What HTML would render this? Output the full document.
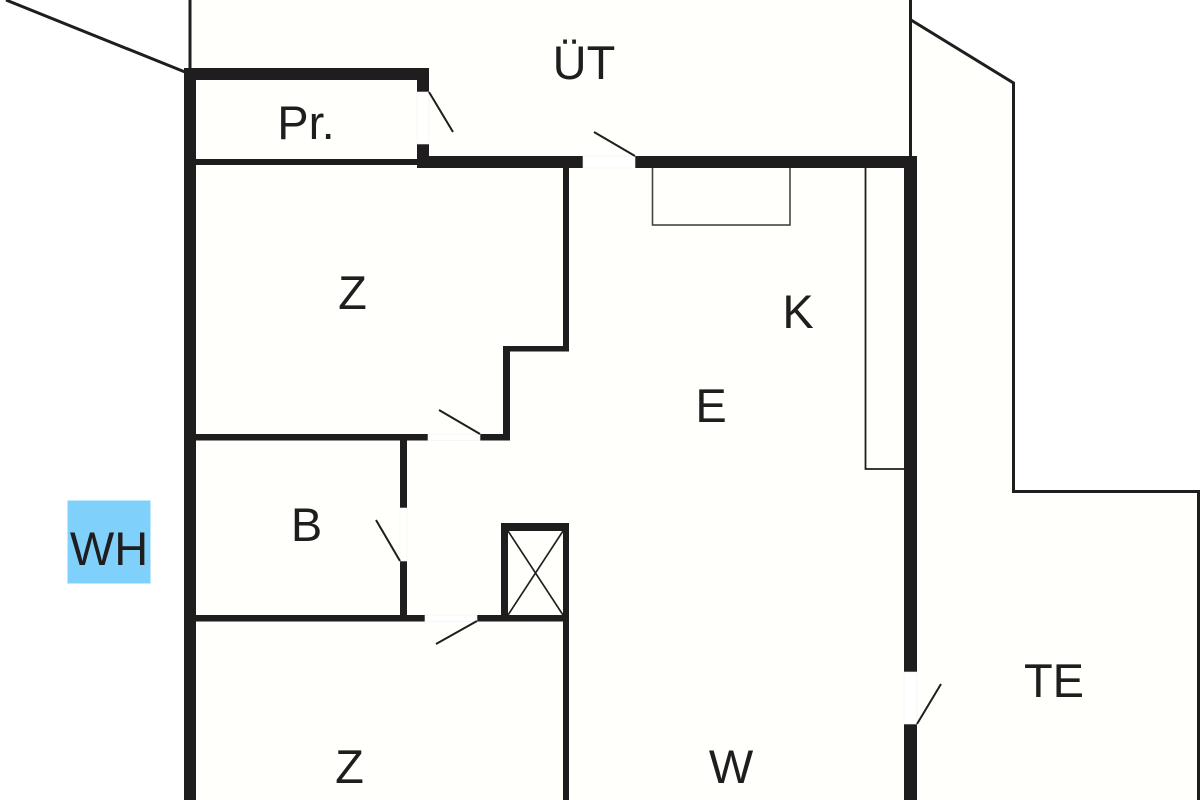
<!DOCTYPE html>
<html>
<head>
<meta charset="utf-8">
<style>
html,body{margin:0;padding:0;background:#fff;width:1200px;height:800px;overflow:hidden}
svg{display:block}
text{font-family:"Liberation Sans",sans-serif;font-size:47px;fill:#1f1d1e;text-anchor:middle}
</style>
</head>
<body>
<svg width="1200" height="800" viewBox="0 0 1200 800" xmlns="http://www.w3.org/2000/svg">
<rect width="1200" height="800" fill="#ffffff"/>
<!-- cream floor -->
<polygon points="190,0 910,0 910,20 1013,83 1013,491 1198,491 1198,800 184,800 184,68 190,68" fill="#fffffb"/>
<!-- site lines -->
<g stroke="#1f1d1e" fill="none">
<line x1="6" y1="0" x2="185" y2="72" stroke-width="3"/>
<line x1="190" y1="0" x2="190" y2="70" stroke-width="3"/>
<line x1="910.500" y1="0" x2="910.500" y2="158" stroke-width="3"/>
<polyline points="911,20 1013.500,83 1013.500,491.500 1198.500,491.500 1198.500,800" stroke-width="3"/>
<rect x="652.500" y="167" width="137.500" height="58" stroke="#444" stroke-width="1.600"/>
<polyline points="865.500,167 865.500,469 905,469" stroke-width="1.800"/>
</g>
<!-- walls -->
<g fill="#1f1d1e">
<rect x="184" y="68" width="12" height="732"/>
<rect x="184" y="68" width="245" height="12"/>
<rect x="417" y="68" width="12" height="24"/>
<rect x="417" y="144" width="12" height="24"/>
<rect x="196" y="159" width="221" height="6"/>
<rect x="417" y="156" width="166" height="12"/>
<rect x="635" y="156" width="282" height="12"/>
<rect x="904" y="156" width="13" height="516"/>
<rect x="904" y="724" width="13" height="76"/>
<rect x="563" y="168" width="6" height="183"/>
<rect x="503" y="346" width="66" height="5.500"/>
<rect x="503" y="346" width="7" height="94"/>
<rect x="480" y="434" width="30" height="6.500"/>
<rect x="196" y="434" width="232" height="6.500"/>
<rect x="400" y="440" width="7" height="68"/>
<rect x="400" y="561" width="7" height="57"/>
<rect x="196" y="615" width="229" height="6.500"/>
<rect x="477" y="615" width="92" height="6.500"/>
<rect x="501" y="523" width="68" height="8"/>
<rect x="501" y="523" width="7" height="95"/>
<rect x="563" y="523" width="6" height="277"/>
</g>
<!-- door openings -->
<g fill="#ffffff" stroke="#f2f2ee" stroke-width="0.600">
<rect x="417" y="92" width="12" height="52"/>
<rect x="583" y="156" width="52" height="12"/>
<rect x="904" y="672" width="13" height="52"/>
<rect x="428" y="434" width="52" height="6.500"/>
<rect x="400" y="508" width="7" height="53" fill="#fffffb"/>
<rect x="425" y="615" width="52" height="6.500"/>
</g>
<!-- door leaves and shaft cross -->
<g stroke="#1f1d1e" stroke-width="2" fill="none">
<line x1="429" y1="92" x2="453" y2="132"/>
<line x1="635" y1="156" x2="594" y2="132"/>
<line x1="480" y1="434" x2="439" y2="410"/>
<line x1="400" y1="561" x2="376" y2="520"/>
<line x1="477" y1="621" x2="436" y2="644"/>
<line x1="917" y1="724" x2="941" y2="684"/>
<line x1="508" y1="531" x2="563" y2="615" stroke-width="1.600"/>
<line x1="563" y1="531" x2="508" y2="615" stroke-width="1.600"/>
</g>
<!-- WH badge -->
<rect x="67.500" y="500.500" width="83" height="83" fill="#80d0fc"/>
<!-- labels -->
<text x="584" y="79">ÜT</text>
<text x="306" y="139">Pr.</text>
<text x="352.500" y="309">Z</text>
<text x="798" y="328">K</text>
<text x="711" y="422">E</text>
<text x="306.500" y="541">B</text>
<text x="109" y="565">WH</text>
<text x="1054" y="697">TE</text>
<text x="349.500" y="783">Z</text>
<text x="731" y="783">W</text>
</svg>
</body>
</html>
